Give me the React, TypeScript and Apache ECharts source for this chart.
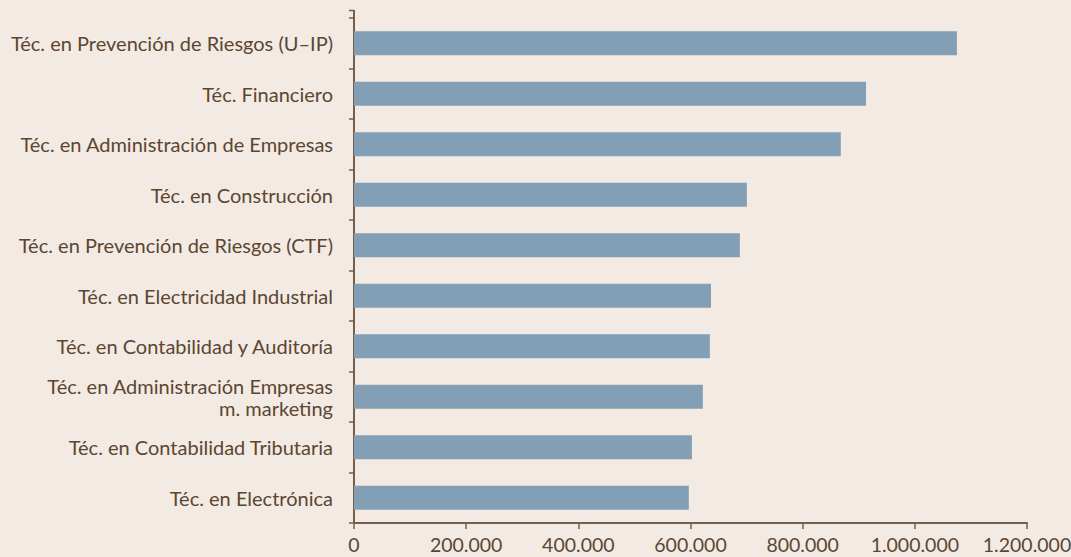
import React, { useEffect, useRef } from "react";
import * as echarts from "echarts";

const categories = [
  "Téc. en Prevención de Riesgos (U–IP)",
  "Téc. Financiero",
  "Téc. en Administración de Empresas",
  "Téc. en Construcción",
  "Téc. en Prevención de Riesgos (CTF)",
  "Téc. en Electricidad Industrial",
  "Téc. en Contabilidad y Auditoría",
  "Téc. en Administración Empresas\nm. marketing",
  "Téc. en Contabilidad Tributaria",
  "Téc. en Electrónica",
];

const values = [1075000, 913000, 868000, 700500, 688000, 636500, 634500, 622000, 602500, 597000];

const xTicks = [0, 200000, 400000, 600000, 800000, 1000000, 1200000];

const fmt = (v: number) => String(Math.round(v)).replace(/\B(?=(\d{3})+(?!\d))/g, ".");

const FONT = "Lato, 'Open Sans', sans-serif";
const TEXT = "#5b4632";
const AXIS = "#745f4d";

export default function App() {
  const ref = useRef<HTMLDivElement>(null);
  useEffect(() => {
    document.body.style.margin = "0";
    const chart = echarts.init(ref.current!, null, { renderer: "svg" });
    chart.setOption({
      animation: false,
      backgroundColor: "#f3eae3",
      grid: { left: 354, right: 44, top: 18, bottom: 34, containLabel: false, outerBoundsMode: "none" },
      graphic: [
        {
          type: "line",
          shape: { x1: 354, y1: 10, x2: 354, y2: 18 },
          style: { stroke: AXIS, lineWidth: 2 },
        },
        {
          type: "line",
          shape: { x1: 349, y1: 10.5, x2: 354, y2: 10.5 },
          style: { stroke: AXIS, lineWidth: 1.5 },
        },
      ],
      xAxis: {
        type: "value",
        min: xTicks[0],
        max: xTicks[xTicks.length - 1],
        interval: 200000,
        splitLine: { show: false },
        axisLine: { show: true, lineStyle: { color: AXIS, width: 2 } },
        axisTick: { show: true, length: 6, lineStyle: { color: AXIS, width: 1.5 } },
        axisLabel: {
          color: TEXT,
          fontFamily: FONT,
          fontSize: 19.5,
          margin: 11,
          formatter: (v: number) => fmt(v),
        },
      },
      yAxis: {
        type: "category",
        data: categories,
        inverse: true,
        axisLine: { show: true, lineStyle: { color: AXIS, width: 2 } },
        axisTick: { show: true, length: 5, lineStyle: { color: AXIS, width: 1.5 } },
        axisLabel: {
          color: TEXT,
          fontFamily: FONT,
          fontSize: 20,
          margin: 21,
          lineHeight: 22,
          align: "right",
        },
      },
      series: [
        {
          type: "bar",
          data: values,
          barWidth: 24,
          itemStyle: { color: "#839fb5" },
        },
      ],
    });
    return () => chart.dispose();
  }, []);
  return <div ref={ref} style={{ position: "absolute", left: 0, top: 0, width: 1071, height: 557 }} />;
}
